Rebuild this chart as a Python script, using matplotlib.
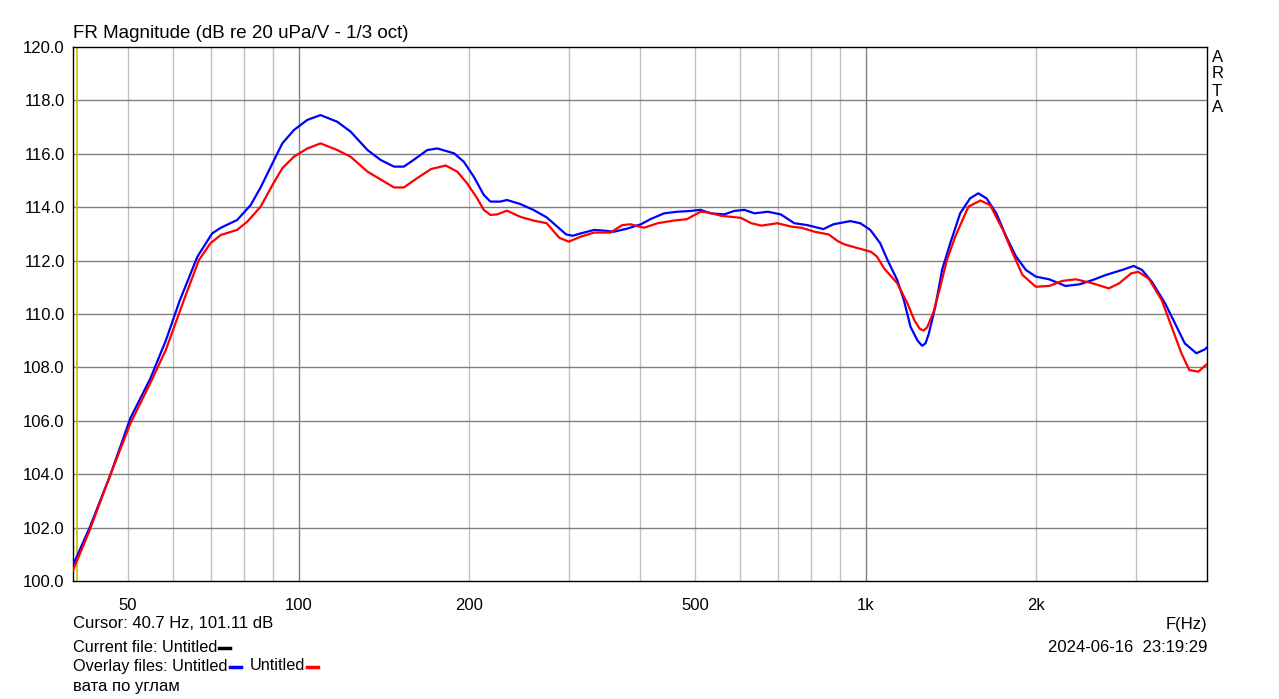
import numpy as np
import matplotlib.pyplot as plt
from matplotlib.lines import Line2D
from matplotlib.ticker import FixedLocator, NullFormatter, NullLocator

plt.rcParams['font.family'] = ['Liberation Sans', 'DejaVu Sans']

# overlay 1 (blue)
blue_f = [40, 42.8, 46.6, 50.5, 54.8, 58.3, 61.7, 66.3, 70.4, 72.9, 77.9, 82.3,
          85.7, 89.9, 93.6, 98.1, 103.6, 109.3, 117, 123.5, 132.3, 139.5, 147.3,
          153.3, 159.5, 168.6, 175.6, 187.9, 195.6, 203.7, 212.1, 217.9, 226.8,
          233, 245.9, 259.4, 273.8, 284.8, 296.4, 304.4, 314.6, 332.1, 346.7,
          359.7, 380, 401.5, 417.1, 441, 465.4, 491.3, 511.6, 533, 563, 586.5,
          611.1, 636.6, 672.5, 708.6, 748.5, 788.6, 842.3, 877.3, 939.4, 978.6,
          1019, 1061, 1093, 1137, 1168, 1200, 1235, 1258, 1275, 1292, 1327, 1364,
          1410, 1468, 1528, 1580, 1634, 1700, 1770, 1842, 1917, 1996, 2107, 2252,
          2381, 2512, 2651, 2834, 2969, 3072, 3197, 3374, 3512, 3655, 3831, 3962,
          4000]
blue_db = [100.6, 102.0, 104.0, 106.1, 107.6, 109.0, 110.5, 112.15, 113.02, 113.23,
           113.52, 114.08, 114.74, 115.64, 116.39, 116.89, 117.27, 117.45, 117.2,
           116.83, 116.14, 115.77, 115.52, 115.52, 115.77, 116.14, 116.2, 116.02,
           115.7, 115.14, 114.46, 114.21, 114.21, 114.27, 114.12, 113.9, 113.62,
           113.3, 112.98, 112.93, 113.02, 113.15, 113.12, 113.08, 113.2, 113.36,
           113.55, 113.77, 113.83, 113.86, 113.9, 113.77, 113.73, 113.86, 113.9,
           113.77, 113.83, 113.73, 113.4, 113.33, 113.18, 113.36, 113.48, 113.4,
           113.15, 112.65, 112.02, 111.27, 110.52, 109.52, 109.0, 108.81, 108.9,
           109.25, 110.27, 111.65, 112.65, 113.77, 114.33, 114.52, 114.33, 113.77,
           112.9, 112.15, 111.65, 111.4, 111.3, 111.05, 111.11, 111.27, 111.46,
           111.65, 111.8, 111.65, 111.21, 110.4, 109.65, 108.9, 108.53, 108.67,
           108.75]

# overlay 2 (red)
red_f = [40, 42.8, 46.6, 50.5, 55, 58.3, 62.7, 66.7, 69.9, 72.9, 77.9, 81.2, 85.7,
         89.9, 93.6, 98.1, 103.6, 109.3, 117, 123.5, 132.3, 139.5, 147.3, 153.3,
         161.6, 171.2, 181.8, 190.5, 198.3, 206.5, 212.1, 217.9, 224, 233, 245.9,
         259.4, 273.8, 288.4, 299.7, 314.6, 332.1, 354.7, 372.2, 384.8, 406.6,
         429.7, 458.9, 483.5, 511.6, 526, 555.8, 602.8, 628.4, 654.9, 698.8, 740,
         770.9, 813.1, 860.6, 893.1, 917, 956, 1022, 1047, 1078, 1137, 1185, 1218,
         1245, 1265, 1284, 1318, 1354, 1391, 1439, 1518, 1594, 1658, 1746, 1818,
         1891, 1996, 2107, 2224, 2349, 2512, 2685, 2800, 2939, 3025, 3156, 3328,
         3465, 3605, 3723, 3863, 3962, 4000]
red_db = [100.4, 101.9, 104.0, 105.9, 107.5, 108.65, 110.5, 112.02, 112.65, 112.96,
          113.15, 113.46, 114.02, 114.83, 115.46, 115.89, 116.2, 116.39, 116.14,
          115.89, 115.33, 115.04, 114.74, 114.74, 115.08, 115.43, 115.56, 115.33,
          114.89, 114.33, 113.9, 113.71, 113.73, 113.87, 113.64, 113.5, 113.4,
          112.85, 112.71, 112.9, 113.05, 113.05, 113.33, 113.36, 113.23, 113.4,
          113.5, 113.55, 113.83, 113.81, 113.68, 113.6, 113.4, 113.31, 113.4,
          113.27, 113.23, 113.08, 112.98, 112.73, 112.61, 112.5, 112.33, 112.15,
          111.71, 111.15, 110.4, 109.78, 109.45, 109.38, 109.5, 110.09, 111.02,
          112.02, 112.9, 114.02, 114.25, 114.08, 113.15, 112.27, 111.46, 111.02,
          111.05, 111.24, 111.3, 111.15, 110.96, 111.15, 111.52, 111.58, 111.33,
          110.52, 109.52, 108.53, 107.9, 107.84, 108.05, 108.12]

cursor_f = 40.7
cursor_db = 101.11

xticks = [50, 100, 200, 500, 1000, 2000]
xticklabels = ['50', '100', '200', '500', '1k', '2k']
minor_grid = [50, 60, 70, 80, 90, 200, 300, 400, 500, 600, 700, 800, 900, 2000, 3000]
major_grid = [100, 1000]
yticks = np.arange(100, 120.1, 2)

W, H = 1279, 699
fig = plt.figure(figsize=(W / 100, H / 100), dpi=100)
ax = fig.add_axes([73 / W, 1 - 581 / H, 1134 / W, 534 / H])

ax.set_xscale('log')
ax.set_xlim(40, 4000)
ax.set_ylim(100, 120)

for f in minor_grid:
    ax.axvline(f, color='#c0c0c0', lw=1.0, zorder=1)
for f in major_grid:
    ax.axvline(f, color='#808080', lw=1.0, zorder=1)
for y in yticks[1:-1]:
    ax.axhline(y, color='#808080', lw=1.0, zorder=1)

ax.axvline(cursor_f, color='#c8c000', lw=1.2, zorder=2)

ax.plot(blue_f, blue_db, color='#0000ff', lw=1.6, zorder=3)
ax.plot(red_f, red_db, color='#ff0000', lw=1.6, zorder=4)

ax.xaxis.set_major_locator(FixedLocator(xticks))
ax.xaxis.set_minor_locator(NullLocator())
ax.xaxis.set_minor_formatter(NullFormatter())
ax.set_xticklabels(xticklabels)
ax.set_yticks(yticks)
ax.set_yticklabels(['%.1f' % y for y in yticks])
ax.tick_params(length=0, labelsize=12, pad=12)
ax.tick_params(axis='y', pad=6)
for s in ax.spines.values():
    s.set_color('black')
    s.set_linewidth(1.0)

fig.text(73 / W, 1 - 33 / H, 'FR Magnitude (dB re 20 uPa/V - 1/3 oct)',
         fontsize=13.5, ha='left', va='center')
for i, ch in enumerate('ARTA'):
    fig.text(1212 / W, 1 - (57 + i * 17) / H, ch, fontsize=12,
             ha='left', va='center')

fig.text(73 / W, 1 - 624 / H, 'Cursor: %.1f Hz, %.2f dB' % (cursor_f, cursor_db),
         fontsize=12, ha='left', va='center')
t_cur = fig.text(73 / W, 1 - 647 / H, 'Current file: Untitled', fontsize=11.7,
                 ha='left', va='center')
t_ov = fig.text(73 / W, 1 - 666 / H, 'Overlay files: Untitled', fontsize=11.7,
                ha='left', va='center')
fig.text(73 / W, 1 - 686 / H, 'вата по углам', fontsize=12, ha='left', va='center')
fig.text(1207 / W, 1 - 624 / H, 'F(Hz)', fontsize=12, ha='right', va='center')
fig.text(1207 / W, 1 - 647 / H, '2024-06-16  23:19:29', fontsize=12,
         ha='right', va='center')

# legend dashes placed right after the file names
fig.canvas.draw()
rend = fig.canvas.get_renderer()


def dash(x0, y, color):
    fig.add_artist(Line2D([x0 / W, (x0 + 11) / W], [1 - y / H, 1 - y / H],
                          color=color, lw=2.5, transform=fig.transFigure))


x_end = t_cur.get_window_extent(rend).x1
dash(x_end + 2, 648, 'black')
x_end = t_ov.get_window_extent(rend).x1
dash(x_end + 2, 667, '#0000ff')
t2 = fig.text((x_end + 22) / W, 1 - 666 / H, 'Untitled', fontsize=11.7,
              ha='left', va='center')
fig.canvas.draw()
dash(t2.get_window_extent(rend).x1 + 2, 667, '#ff0000')

fig.savefig('out.png', dpi=100)
